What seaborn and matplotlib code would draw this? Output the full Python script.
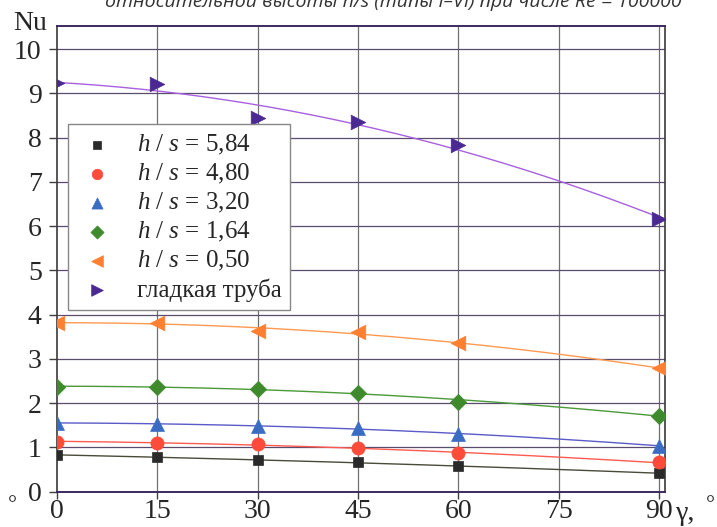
import numpy as np
import pandas as pd
import matplotlib
matplotlib.use('Agg')
import matplotlib.pyplot as plt
import seaborn as sns

# angle of inclination, degrees
gamma = [0, 15, 30, 45, 60, 90]

# Nu for each h/s and the smooth tube
nu_584 = [0.83, 0.78, 0.72, 0.66, 0.57, 0.42]
nu_480 = [1.13, 1.11, 1.07, 0.98, 0.87, 0.66]
nu_320 = [1.55, 1.54, 1.48, 1.43, 1.30, 1.04]
nu_164 = [2.37, 2.37, 2.32, 2.24, 2.03, 1.72]
nu_050 = [3.82, 3.81, 3.64, 3.61, 3.36, 2.79]
nu_smooth = [9.23, 9.22, 8.44, 8.36, 7.83, 6.16]

labels = ['$h$ / $s$ = 5,84', '$h$ / $s$ = 4,80', '$h$ / $s$ = 3,20',
          '$h$ / $s$ = 1,64', '$h$ / $s$ = 0,50', 'гладкая труба']

sns.set_theme(style='white')
plt.rcParams['font.family'] = ['Liberation Serif', 'DejaVu Serif']
plt.rcParams['mathtext.fontset'] = 'custom'
plt.rcParams['mathtext.rm'] = 'Liberation Serif'
plt.rcParams['mathtext.it'] = 'Liberation Serif:italic'

series = [nu_584, nu_480, nu_320, nu_164, nu_050, nu_smooth]
markers = ['s', 'o', '^', 'D', '<', '>']
sizes = [60, 90, 100, 70, 110, 110]
mcolors = ['#2a2a2a', '#ff4b3a', '#3a6cc4', '#3e8a2c', '#ff8030', '#4a2a92']
lcolors = ['#4a4a3a', '#ff5a50', '#5a5ac8', '#4a9a3a', '#ff9a50', '#a860e0']

fig = plt.figure(figsize=(7.17, 5.27), dpi=100)
ax = fig.add_axes([57 / 717, 35.3 / 527, 608 / 717, 465.7 / 527])

xx = np.linspace(0, 90, 200)
for k, vals in enumerate(series):
    # smooth trend (2nd order fit) drawn under the points
    coeffs = np.polyfit(gamma, vals, 2)
    ax.plot(xx, np.polyval(coeffs, xx), color=lcolors[k], lw=1.0, zorder=2)
    sns.scatterplot(x=gamma, y=vals, ax=ax, marker=markers[k], s=sizes[k],
                    color=mcolors[k], edgecolor=mcolors[k], linewidth=0.5,
                    label=labels[k], zorder=3)

ax.set_xlim(0, 90.9)
ax.set_ylim(0, 10.52)
ax.set_xticks([0, 15, 30, 45, 60, 75, 90])
ax.set_yticks(range(0, 11))
ax.tick_params(axis='both', labelsize=20, direction='out', length=6,
               width=1.0, color='#404040', left=True, bottom=True)
ax.tick_params(axis='x', pad=0, length=5)
ax.tick_params(axis='y', pad=5)

# grid
for v in [15, 30, 45, 60, 75, 90]:
    ax.axvline(v, color='#707070', lw=0.9, zorder=1)
for h in range(1, 11):
    ax.axhline(h, color='#5a4c6c', lw=0.9, zorder=1)

for side in ['left', 'right']:
    ax.spines[side].set_color('#3a3a3a')
    ax.spines[side].set_linewidth(1.2)
for side in ['top', 'bottom']:
    ax.spines[side].set_color('#3c2a60')
    ax.spines[side].set_linewidth(1.4)

ax.set_xlabel('')
ax.set_ylabel('')

leg = ax.legend(loc='upper left', bbox_to_anchor=(0.018, 0.79), borderaxespad=0,
                prop={'family': 'Liberation Serif', 'size': 18},
                frameon=True, fancybox=False, framealpha=1,
                edgecolor='#888888', labelspacing=0.2, handletextpad=0.8,
                borderpad=0.35, handlelength=1.6, markerscale=0.8)
leg.get_frame().set_linewidth(1.0)
leg.set_zorder(5)

# axis titles and the cut-off caption
fig.text(30 / 717, 1 - 24 / 527, 'Nu', fontsize=20, ha='center', va='center')
fig.text(676 / 717, 1 - 514 / 527, 'γ,', fontsize=20, ha='left', va='center')
fig.text(710 / 717, 1 - 506 / 527, '°', fontsize=16, ha='center', va='center')
fig.text(12 / 717, 1 - 506 / 527, '°', fontsize=16, ha='center', va='center')
fig.text(105 / 717, 1 - 7 / 527,
         'относительной высоты h/s (типы I–VI) при числе Re = 100000',
         fontsize=14, family='Open Sans', style='italic', color='#333333',
         ha='left', va='baseline')

fig.savefig('out.png', dpi=100, facecolor='white')
